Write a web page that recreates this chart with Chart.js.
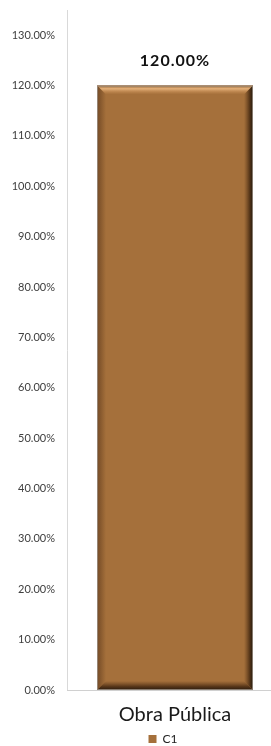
<!DOCTYPE html>
<html>
<head>
<meta charset="utf-8">
<script src="https://cdn.jsdelivr.net/npm/chart.js@4.4.1/dist/chart.umd.min.js"></script>
<style>
html,body{margin:0;padding:0;background:#fff;overflow:hidden;}
#wrap{position:relative;width:271px;height:746px;overflow:hidden;}
#c{position:absolute;left:0;top:0;}
</style>
</head>
<body>
<div id="wrap"><canvas id="c" width="326" height="755"></canvas></div>
<script>
const categories = ["Obra Pública"];
const seriesName = "C1";
const seriesValues = [120];
const yTickMin = 0;
const yTickMax = 130;
const yTickStep = 10;
const yAxisMax = 135;

const barColor = "#A5703B";
const FONT = "Lato, 'Open Sans', sans-serif";

const bevelPlugin = {
  id: 'bevel',
  afterDatasetsDraw(chart) {
    const ctx = chart.ctx;
    chart.getDatasetMeta(0).data.forEach(bar => {
      const p = bar.getProps(['x','y','base','width'], true);
      const l = p.x - p.width/2, r = p.x + p.width/2, t = p.y, b = p.base;
      const s = 9;
      ctx.save();
      let g = ctx.createLinearGradient(0, t, 0, t+s);
      g.addColorStop(0, 'rgba(140,95,50,1)');
      g.addColorStop(0.35, 'rgba(232,180,125,0.95)');
      g.addColorStop(1, 'rgba(200,140,80,0)');
      ctx.fillStyle = g;
      ctx.beginPath(); ctx.moveTo(l,t); ctx.lineTo(r,t); ctx.lineTo(r-s,t+s); ctx.lineTo(l+s,t+s); ctx.closePath(); ctx.fill();
      g = ctx.createLinearGradient(r-s, 0, r, 0);
      g.addColorStop(0, 'rgba(90,55,25,0)');
      g.addColorStop(0.6, 'rgba(70,42,18,0.8)');
      g.addColorStop(1, 'rgba(30,20,10,1)');
      ctx.fillStyle = g;
      ctx.beginPath(); ctx.moveTo(r,t); ctx.lineTo(r,b); ctx.lineTo(r-s,b-s); ctx.lineTo(r-s,t+s); ctx.closePath(); ctx.fill();
      g = ctx.createLinearGradient(0, b-s, 0, b);
      g.addColorStop(0, 'rgba(90,55,25,0)');
      g.addColorStop(0.6, 'rgba(75,45,20,0.85)');
      g.addColorStop(1, 'rgba(40,25,12,1)');
      ctx.fillStyle = g;
      ctx.beginPath(); ctx.moveTo(l,b); ctx.lineTo(r,b); ctx.lineTo(r-s,b-s); ctx.lineTo(l+s,b-s); ctx.closePath(); ctx.fill();
      g = ctx.createLinearGradient(l, 0, l+s, 0);
      g.addColorStop(0, 'rgba(110,70,35,0.9)');
      g.addColorStop(1, 'rgba(110,70,35,0)');
      ctx.fillStyle = g;
      ctx.beginPath(); ctx.moveTo(l,t); ctx.lineTo(l,b); ctx.lineTo(l+s,b-s); ctx.lineTo(l+s,t+s); ctx.closePath(); ctx.fill();
      ctx.strokeStyle = 'rgba(160,150,140,0.8)';
      ctx.lineWidth = 1;
      ctx.strokeRect(l+0.5, t+0.5, p.width-1, b-t-1);
      ctx.restore();
    });
  }
};

const labelPlugin = {
  id: 'dlabel',
  afterDatasetsDraw(chart) {
    const ctx = chart.ctx;
    const ds = chart.data.datasets[0];
    chart.getDatasetMeta(0).data.forEach((bar, i) => {
      ctx.save();
      ctx.font = "bold 16px " + FONT;
      if ('letterSpacing' in ctx) ctx.letterSpacing = "1px";
      ctx.fillStyle = "#111";
      ctx.textAlign = "center";
      ctx.textBaseline = "middle";
      ctx.fillText(ds.data[i].toFixed(2) + "%", bar.x, bar.y - 25);
      ctx.restore();
    });
  }
};

new Chart(document.getElementById('c'), {
  type: 'bar',
  data: {
    labels: categories,
    datasets: [{
      label: seriesName,
      data: seriesValues,
      backgroundColor: barColor,
      borderWidth: 0,
      categoryPercentage: 1,
      barPercentage: 0.722,
      yAxisID: 'y'
    }]
  },
  options: {
    responsive: false,
    animation: false,
    layout: { padding: { top: 10, right: 0, left: 0, bottom: 0 } },
    plugins: {
      tooltip: { enabled: false },
      legend: {
        position: 'bottom',
        labels: {
          font: { family: FONT, size: 12 },
          color: '#222',
          boxWidth: 8, boxHeight: 8,
          padding: 4
        }
      }
    },
    scales: {
      y: {
        position: 'left',
        min: yTickMin,
        max: yAxisMax,
        afterBuildTicks(axis) {
          const t = [];
          for (let v = yTickMin; v <= yTickMax; v += yTickStep) t.push({ value: v });
          axis.ticks = t;
        },
        ticks: {
          callback: v => v.toFixed(2) + "%",
          font: { family: FONT, size: 11 },
          color: '#404040',
          padding: 12
        },
        grid: { display: false, drawTicks: false },
        border: { display: true, color: '#d9d9d9', width: 1 },
        afterFit(axis) { axis.width = 67; axis.paddingTop = 0; axis.paddingBottom = 0; }
      },
      y2: {
        position: 'right',
        display: true,
        ticks: { display: false },
        grid: { display: false, drawTicks: false },
        border: { display: false },
        afterFit(axis) { axis.width = 43; axis.paddingTop = 0; axis.paddingBottom = 0; }
      },
      x: {
        ticks: {
          font: { family: FONT, size: 20 },
          color: '#1a1a1a',
          padding: 13
        },
        grid: { display: false, drawTicks: false },
        border: { display: true, color: '#d0d0d0', width: 1 },
        afterFit(axis) { axis.height = axis.height - 11; axis.paddingLeft = 0; axis.paddingRight = 0; }
      }
    }
  },
  plugins: [bevelPlugin, labelPlugin]
});
</script>
</body>
</html>
